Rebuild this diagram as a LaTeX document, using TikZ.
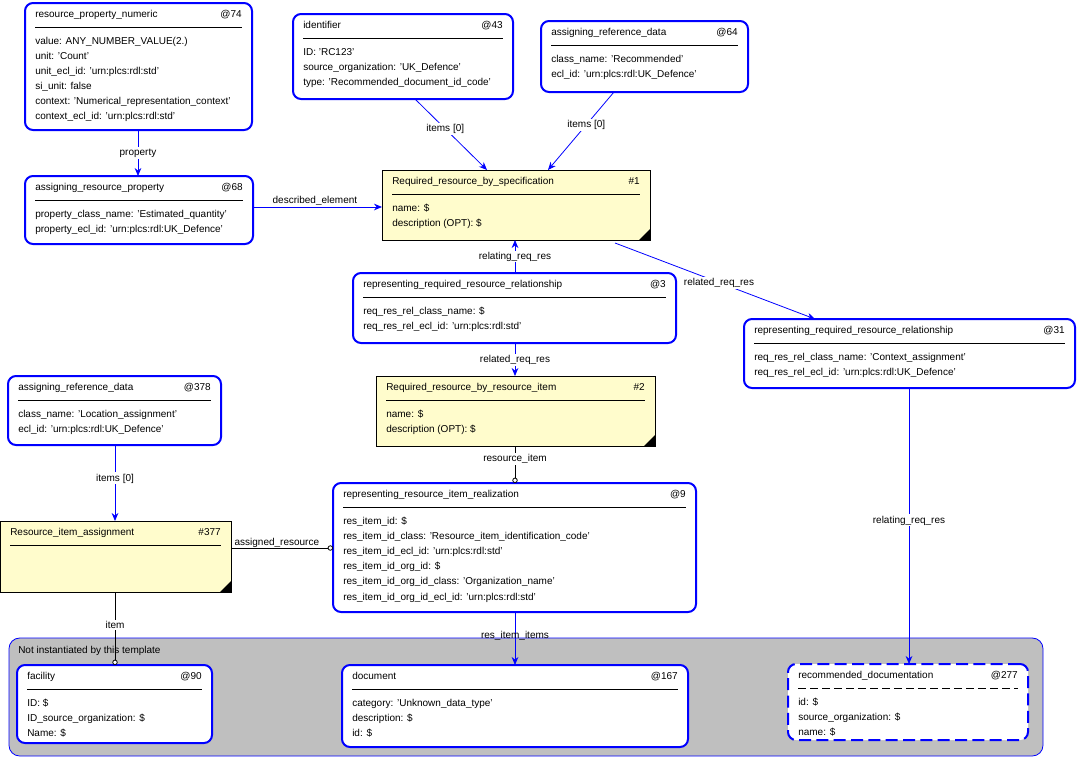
\documentclass[tikz,border=0pt]{standalone}
\usepackage{fontspec}
\setmainfont{Liberation Sans}
\usetikzlibrary{fit,arrows.meta}
\tikzset{
  x=0.75pt,y=-0.75pt,
  ent/.style={draw=blue,line width=1.5pt,rounded corners=6pt,fill=white,inner sep=0},
  dent/.style={draw=blue,line width=1.5pt,dash pattern=on 9pt off 4pt,rounded corners=6pt,fill=white,inner sep=0},
  note/.style={draw=black,line width=0.5pt,fill=yellow!20,inner sep=0},
  sep/.style={black,line width=0.6pt},
  dsep/.style={black,line width=0.6pt,dash pattern=on 6pt off 3pt},
  txt/.style={font=\fontsize{7.5}{11.3}\selectfont,inner sep=0,text=black},
  rel/.style={blue,line width=0.6pt,-{Stealth[length=6pt,width=5pt]}},
  blk/.style={black,line width=0.6pt,-{Circle[open,length=4pt,width=4pt,fill=white]}},
  lab/.style={txt,fill=white,inner sep=1pt},
}
% #1 name #2 style #3 x1 #4 y1 #5 x2 #6 y2 #7 title #8 id #9 lines
\newcommand\ent[9]{%
  \node[#2,fit={(#3,#4)(#5,#6)}] (#1) {};
  \node[txt,anchor=base west] (#1-t) at ({#3+10},{#4+14}) {#7};
  \node[txt,anchor=base east] (#1-i) at ({#5-10},{#4+14}) {#8};
  \node[txt,anchor=north west,align=left] (#1-a) at ({#3+10},{#4+34}) {#9};
}
\newcommand\corner[3]{\fill[black] (#2,#3) -- ({#2-11},#3) -- (#2,{#3-11}) -- cycle;}
\begin{document}
\begin{tikzpicture}
\useasboundingbox (0,0) rectangle (1077,757);
% grey region
\node[draw=blue,line width=0.6pt,fill=black!25,rounded corners=8pt,fit={(9,638)(1043,756)},inner sep=0] (grey) {};
\node[txt,anchor=base west] (greyl) at (18,653) {Not instantiated by this template};

\ent{p74}{ent}{25}{3}{252}{130}{resource\_property\_numeric}{@74}{value: ANY\_NUMBER\_VALUE(2.)\\unit: 'Count'\\unit\_ecl\_id: 'urn:plcs:rdl:std'\\si\_unit: false\\context: 'Numerical\_representation\_context'\\context\_ecl\_id: 'urn:plcs:rdl:std'}
\draw[sep] (35,27) -- (242,27);
\ent{i43}{ent}{293}{14}{513}{99}{identifier}{@43}{ID: 'RC123'\\source\_organization: 'UK\_Defence'\\type: 'Recommended\_document\_id\_code'}
\draw[sep] (303,38) -- (503,38);
\ent{a64}{ent}{541}{21}{748}{92}{assigning\_reference\_data}{@64}{class\_name: 'Recommended'\\ecl\_id: 'urn:plcs:rdl:UK\_Defence'}
\draw[sep] (551,45) -- (738,45);
\ent{a68}{ent}{25}{176}{253}{244}{assigning\_resource\_property}{@68}{property\_class\_name: 'Estimated\_quantity'\\property\_ecl\_id: 'urn:plcs:rdl:UK\_Defence'}
\draw[sep] (35,200) -- (243,200);
\ent{r1}{note}{382}{170}{650}{240}{Required\_resource\_by\_specification}{\#1}{name: \$\\description (OPT): \$}
\draw[sep] (392,194) -- (640,194); \corner{r1}{650}{240}
\ent{r3}{ent}{353}{273}{676}{343}{representing\_required\_resource\_relationship}{@3}{req\_res\_rel\_class\_name: \$\\req\_res\_rel\_ecl\_id: 'urn:plcs:rdl:std'}
\draw[sep] (363,297) -- (666,297);
\ent{r31}{ent}{744}{319}{1075}{388}{representing\_required\_resource\_relationship}{@31}{req\_res\_rel\_class\_name: 'Context\_assignment'\\req\_res\_rel\_ecl\_id: 'urn:plcs:rdl:UK\_Defence'}
\draw[sep] (754,343) -- (1065,343);
\ent{r2}{note}{376}{376}{655}{446}{Required\_resource\_by\_resource\_item}{\#2}{name: \$\\description (OPT): \$}
\draw[sep] (386,400) -- (645,400); \corner{r2}{655}{446}
\ent{a378}{ent}{8}{376}{221}{445}{assigning\_reference\_data}{@378}{class\_name: 'Location\_assignment'\\ecl\_id: 'urn:plcs:rdl:UK\_Defence'}
\draw[sep] (18,400) -- (211,400);
\ent{r9}{ent}{333}{483}{696}{612}{representing\_resource\_item\_realization}{@9}{res\_item\_id: \$\\res\_item\_id\_class: 'Resource\_item\_identification\_code'\\res\_item\_id\_ecl\_id: 'urn:plcs:rdl:std'\\res\_item\_id\_org\_id: \$\\res\_item\_id\_org\_id\_class: 'Organization\_name'\\res\_item\_id\_org\_id\_ecl\_id: 'urn:plcs:rdl:std'}
\draw[sep] (343,507) -- (686,507);
\ent{r377}{note}{0}{521}{231}{592}{Resource\_item\_assignment}{\#377}{}
\draw[sep] (10,545) -- (221,545); \corner{r377}{231}{592}
\ent{f90}{ent}{17}{665}{212}{743}{facility}{@90}{ID: \$\\ID\_source\_organization: \$\\Name: \$}
\draw[sep] (27,689) -- (202,689);
\ent{d167}{ent}{342}{665}{688}{747}{document}{@167}{category: 'Unknown\_data\_type'\\description: \$\\id: \$}
\draw[sep] (352,689) -- (678,689);
\ent{d277}{dent}{788}{664}{1028}{740}{recommended\_documentation}{@277}{id: \$\\source\_organization: \$\\name: \$}
\draw[dsep] (798,688) -- (1018,688);

% connectors
\coordinate (c1) at (138,130); \coordinate (c2) at (138,176);
\draw[rel] (c1) -- node[lab]{property} (c2);
\coordinate (c3) at (415,99); \coordinate (c4) at (487,170);
\draw[rel] (c3) -- node[lab,pos=0.42]{items [0]} (c4);
\coordinate (c5) at (614,92); \coordinate (c6) at (548,170);
\draw[rel] (c5) -- node[lab,pos=0.42]{items [0]} (c6);
\coordinate (c7) at (253,207); \coordinate (c8) at (382,207);
\draw[rel] (c7) -- node[txt,above=1pt,pos=0.48]{described\_element} (c8);
\coordinate (c9) at (515,273); \coordinate (c10) at (515,240);
\draw[rel] (c9) -- node[lab]{relating\_req\_res} (c10);
\coordinate (c11) at (615,243); \coordinate (c12) at (815,319);
\draw[rel] (c11) -- node[lab,pos=0.52]{related\_req\_res} (c12);
\coordinate (c13) at (515,343); \coordinate (c14) at (515,376);
\draw[rel] (c13) -- node[lab]{related\_req\_res} (c14);
\coordinate (c15) at (515,446); \coordinate (c16) at (515,483);
\draw[blk] (c15) -- node[lab,pos=0.35]{resource\_item} (c16);
\coordinate (c17) at (115,445); \coordinate (c18) at (115,521);
\draw[rel] (c17) -- node[lab,pos=0.44]{items [0]} (c18);
\coordinate (c19) at (231,548); \coordinate (c20) at (333,548);
\draw[blk] (c19) -- node[txt,above=0pt,pos=0.45]{assigned\_resource} (c20);
\coordinate (c21) at (115,592); \coordinate (c22) at (115,665);
\draw[blk] (c21) -- node[lab,pos=0.45]{item} (c22);
\coordinate (c23) at (515,612); \coordinate (c24) at (515,665);
\draw[rel] (c23) -- node[txt,pos=0.45]{res\_item\_items} (c24);
\coordinate (c25) at (909,388); \coordinate (c26) at (909,664);
\draw[rel] (c25) -- node[lab,pos=0.48]{relating\_req\_res} (c26);
\end{tikzpicture}
\end{document}
